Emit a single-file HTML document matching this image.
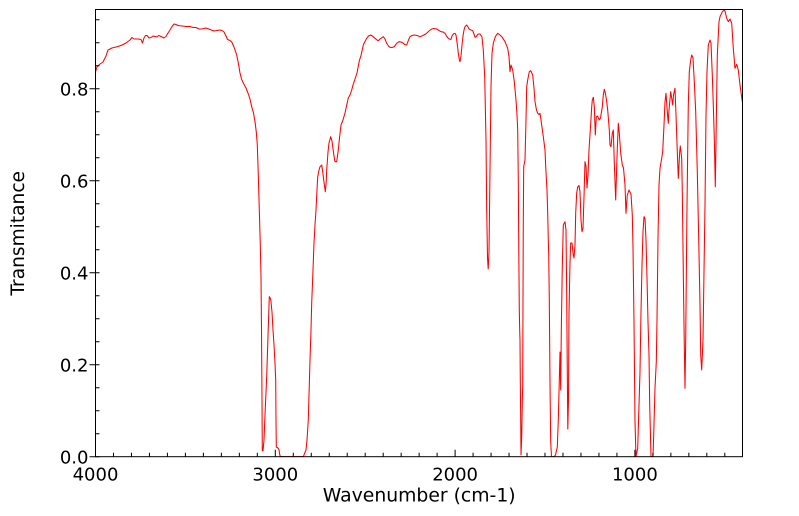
<!DOCTYPE html>
<html><head><meta charset="utf-8"><style>
html,body{margin:0;padding:0;background:#fff;}
svg{display:block;}
text{font-family:"DejaVu Sans","Liberation Sans",sans-serif;fill:#000;}
</style></head><body>
<svg width="799" height="516" viewBox="0 0 799 516" xmlns="http://www.w3.org/2000/svg">
<rect width="799" height="516" fill="#fff"/>
<defs><clipPath id="c"><rect x="95.5" y="9.5" width="647" height="447.5"/></clipPath></defs>
<polyline clip-path="url(#c)" fill="none" stroke="#ff0000" stroke-width="1.05" stroke-linejoin="round" points="
95.5,72 97,67 100,64 103,62 106,56 108,50 112,48 118,46.5 122,45 126,43 130,40 132,37.5 134,39 138,39 141,39.5 142.5,43 144,38 145.5,35.5 147,35.5 149,38 151,37.5 153,36 155,36.5 157,37 158.5,35.5 160,36 162,37 164,38 166,36.5 168,33 170,30 172,26.5 174,24 176,24.5 178,25.5 182,26 186,26.5 190,26.5 193,27.5 196,27.5 199,29 202,29 206,28 210,29.5 214,31 217,30.5 220,30 222,30.5 224,32 226,36 227.5,39.5 230,40.5 232,42.5
234,47 236.7,55 238.5,64 240,73 241.5,79 243.3,83 246,88 248.3,94 250,99 251.7,106.7 253.5,113 255,121.7 256.3,132 257.3,145 258.3,175 259.3,210 260.3,245 261,276.7 261.5,330 262,400 262.3,450.7 263,451 264,440 265,415 266.7,376.7 268.3,326.7 269.3,296.7 270.7,299 272,312 273,330 274,345 275,363 275.7,380 276,420 276.3,447 278,448 279,450 280,456 281.7,456.7 303.3,456.7 306,450 307,440 308.3,420 309,395 310,360 311,330 311.7,303 313,270 314,243 315,225 316,210 317,190 317.7,177 319,170 320,166.7 321.7,165 322.5,170 323.7,180 325.3,191.7 326.2,182 326.7,170 328,152 329,143 330.7,136.7 332,141 332.7,146.7 334,156 335,161.7 336.7,161.7 338.3,150 339.5,138 341,125 343,120 345,113 346.5,106 348.3,98 350,95 351.7,90 353,85 355,79 357,73 358.3,66 359.5,60 360.7,56.7 362,51 363.3,45 365,41.5 366.7,38.3 368.5,36 370.7,35 373,36.5 375,38.3 377,40 378.3,40.7 380,39 383.3,36.7 385,39 386.7,43.3 388.5,46 390,47.3 392,47.5 394.3,46.7 396.7,43.3 399,41.7 401,42 403,43 404.5,44.5 406.7,45 408.5,40 410,36.7 412,35.5 414.3,35 417,35.5 420,36.7 423,35.5 426.7,33.3 429,31 431.7,29 434,28.5 436.7,29 439,30.5 441,31.7 443,32 445,33.3 446.5,36 448.3,38.3 450,39.3 451,39.3 452,36 453.3,34 455,33.3 456,35 456.7,40 457.5,46 458.3,53.3 459.2,59 460,61.7 461,56 462,45 463,36 464,30 465,26.7 466.7,25 468,27 469.3,29.3 471,30 472.7,30.7 474,34 475,37.3 476.5,36.5 477.3,35 478.3,34 480,34 482,37 483.3,50 484.7,76.7 486,140 486.7,210 487.5,258 488.2,269 489,252 490,170 491,86.7 492,53.3 493.3,43.3 495.3,36.7 497.7,33.3 500,35 502.3,37.3 505,41.7 507.7,48.3 509,56.7 510,71.7 511,65 512.7,70 514.3,81.7 516,100 517,115 517.7,130 518.3,180 518.8,253 519.3,310 519.7,330 520,340 520.3,380 520.7,420 521,455 521.7,436.7 522.3,400 522.7,386.7 523,300 523.3,220 523.7,166.7 525,160 526,120 526.7,86.7 527.7,80 529.3,71.7 530.7,70.7 532.7,75 534,88 535,101.7 536.5,110 537.7,113.3 539,114.5 540,113.3 541,120 543.3,136.7 545,150 545.7,166.7 547,190 547.7,213.3 548.3,240 548.7,253.3 549.3,300 550,383 550.7,442 551.5,456.7 554,456.7 555.5,455 557.3,447 558.3,420 559.3,380 560,352 560.7,390 561.3,330 562.3,267 563.3,225 565,221.7 566,230 566.7,293 567.3,373 567.8,429 568.5,400 569,313 570,263 570.7,243 572,243 573,253 574,258 575,245 575.7,213 576.7,193 577.7,187 579,185.5 580,192 581,220 582,231.7 583,228 584,197 585,161.7 586,166 587,188 588,175 589,150 590.3,130 591.7,107 592.3,100 593.3,97.3 594.3,106.7 595.3,135 596.3,117 597.5,116 599.3,120 600.5,118 602.3,107 603.3,95 604.3,89.3 605.3,93 606.5,100 607.7,110 609.3,130 610,145 611,146.7 612.3,133.3 613.3,130 614.3,163 615.7,200 617,157 618.3,123.3 619.3,133 620.7,153 622.3,165 623.5,168 625,185 626,213.3 627.3,195 629,190 631,194 632.3,215 633,248 634,321.7 635,421.7 636,456.7 637.7,448.3 639,405 640,371.7 641,311.7 642,265 643,231.7 644,216.7 645,218.3 646,240 647,278 648,321.7 649,355 649.7,405 651,456.7 653,456.7 653.7,435 655,388 656.3,361.7 657,320 658,238 659,185 660,168.3 661.7,158.3 662.7,151.7 664,125 665,101.7 666,93.3 667.3,111.7 668.3,123.3 669,110 670.7,91.7 672,100 672.7,105 673.5,95 675,88.3 676,115 677.3,151.7 678.3,178.3 679.7,151.7 680.3,146 681.7,158.3 682.3,191.7 683.3,271.7 684.2,340 685,388.3 685.7,340 687,205 688.3,105 689.3,71.7 690.7,60 691.7,55 693,58 694.3,81.7 695.7,111.7 697.3,171.7 698.7,238.3 700,305 700.7,355 701.7,370 703,340 704,271.7 705,205 706,115 707,71.7 708.3,45 710,40 711,43 712.3,75 713.3,105 714.3,138.3 715.3,186.7 716.3,121.7 717.3,55 719,21.7 720,16.7 722.3,11.7 724.3,10 725,11 726.7,18.3 728.3,21.7 730,19 731.7,23.3 733.3,48.3 735,68.3 736.7,64.3 738.3,70 740,85 742.3,101.7"/>
<rect x="95.5" y="9.5" width="647" height="447.2" fill="none" stroke="#000" stroke-width="1"/>
<path stroke="#000" stroke-width="1" fill="none" d="
M89.5,456.7H99.5 M89.5,364.7H99.5 M89.5,272.7H99.5 M89.5,180.7H99.5 M89.5,88.7H99.5
M95.5,433.7h4 M95.5,410.7h4 M95.5,387.7h4 M95.5,341.7h4 M95.5,318.7h4 M95.5,295.7h4 M95.5,249.7h4 M95.5,226.7h4 M95.5,203.7h4 M95.5,157.7h4 M95.5,134.7h4 M95.5,111.7h4 M95.5,65.7h4 M95.5,42.7h4 M95.5,19.7h4
M95.5,456.7v-7 M275.3,456.7v-7 M455.1,456.7v-7 M634.9,456.7v-7
M113.48,456.7v-4 M131.46,456.7v-4 M149.44,456.7v-4 M167.42,456.7v-4 M185.4,456.7v-4 M203.38,456.7v-4 M221.36,456.7v-4 M239.34,456.7v-4 M257.32,456.7v-4
M293.28,456.7v-4 M311.26,456.7v-4 M329.24,456.7v-4 M347.22,456.7v-4 M365.2,456.7v-4 M383.18,456.7v-4 M401.16,456.7v-4 M419.14,456.7v-4 M437.12,456.7v-4
M473.08,456.7v-4 M491.06,456.7v-4 M509.04,456.7v-4 M527.02,456.7v-4 M545,456.7v-4 M562.98,456.7v-4 M580.96,456.7v-4 M598.94,456.7v-4 M616.92,456.7v-4
M652.88,456.7v-4 M670.86,456.7v-4 M688.84,456.7v-4 M706.82,456.7v-4 M724.8,456.7v-4"/>
<g font-size="18" text-anchor="end">
<text x="88.5" y="463.3">0.0</text>
<text x="88.5" y="371.3">0.2</text>
<text x="88.5" y="279.3">0.4</text>
<text x="88.5" y="187.3">0.6</text>
<text x="88.5" y="95.3">0.8</text>
</g>
<g font-size="18" text-anchor="middle">
<text x="95.5" y="480.7">4000</text>
<text x="275.3" y="480.7">3000</text>
<text x="455.1" y="480.7">2000</text>
<text x="634.9" y="480.7">1000</text>
<text x="419.2" y="501.7" font-size="18.8">Wavenumber (cm-1)</text>
<text x="24" y="233.3" font-size="18.6" transform="rotate(-90 24 233.3)">Transmitance</text>
</g>
</svg>
</body></html>
